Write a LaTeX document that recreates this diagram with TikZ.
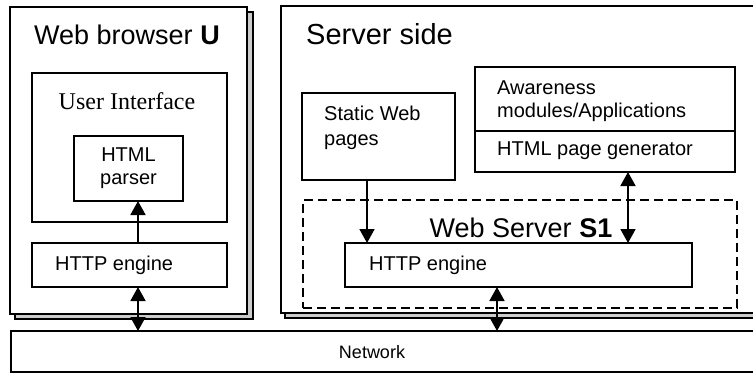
\documentclass[tikz,border=0pt]{standalone}
\usepackage{fontspec}
\setmainfont{Liberation Sans}
\newfontfamily\uiserif{Liberation Serif}
\usetikzlibrary{arrows.meta}
\begin{document}
\begin{tikzpicture}[x=1pt,y=-1pt,
  box/.style={draw,line width=1.8pt,fill=white,anchor=north west,inner sep=0pt,outer sep=0pt},
  shadowbox/.style={draw,line width=1.2pt,fill=gray!40,anchor=north west,inner sep=0pt,outer sep=0pt},
  lbl/.style={inner sep=0pt,font=\fontsize{20}{23}\selectfont,align=left},
  ttl/.style={inner sep=0pt},
  arr/.style={line width=1.8pt,-{Triangle[width=15pt,length=14pt]}},
  darr/.style={line width=1.8pt,{Triangle[width=15pt,length=14pt]}-{Triangle[width=15pt,length=14pt]}},
  dashbox/.style={draw,line width=1.8pt,dash pattern=on 9pt off 5pt,anchor=north west,inner sep=0pt,outer sep=0pt}
]
\useasboundingbox (0,0) rectangle (753,373);
\clip (0,0) rectangle (753,373);
\fill[white] (0,0) rectangle (753,373);

% shadows
\node[shadowbox,minimum width=238pt,minimum height=307pt] (bshadow) at (15,12) {};
\node[shadowbox,minimum width=480pt,minimum height=307pt] (sshadow) at (285,11) {};

% browser side
\node[box,minimum width=237pt,minimum height=307pt] (browser) at (10,7) {};
\node[ttl,font=\fontsize{27}{30}\selectfont] (btitle) at (127,35) {Web browser \textbf{U}};
\node[box,minimum width=195pt,minimum height=149pt] (ui) at (32,73) {};
\node[ttl,font=\uiserif\fontsize{24}{27}\selectfont] (uititle) at (127,101) {User Interface};
\node[box,minimum width=109pt,minimum height=65pt,align=center,font=\fontsize{20}{23}\selectfont] (parser) at (74,136) {HTML\\parser};
\node[box,minimum width=195pt,minimum height=44pt] (bhttp) at (32,243) {};
\node[lbl,anchor=west] (bhttptext) at (55,265) {HTTP engine};

% server side
\node[box,minimum width=480pt,minimum height=307pt] (server) at (281,6) {};
\node[ttl,anchor=west,font=\fontsize{29}{32}\selectfont] (stitle) at (306,34) {Server side};
\node[box,minimum width=153pt,minimum height=87pt] (static) at (302,93) {};
\node[lbl,anchor=west,font=\fontsize{20}{25}\selectfont] (statictext) at (324,128) {Static Web\\pages};
\node[box,minimum width=260pt,minimum height=64pt] (aware) at (475,67) {};
\node[lbl,anchor=west] (awaretext) at (497,101) {Awareness\\modules/Applications};
\node[box,minimum width=260pt,minimum height=41pt] (gen) at (475,131) {};
\node[lbl,anchor=west] (gentext) at (497,151) {HTML page generator};
\node[dashbox,minimum width=434pt,minimum height=108pt] (ws) at (303,200) {};
\node[ttl,font=\fontsize{27}{30}\selectfont] (wstitle) at (521,228) {Web Server \textbf{S1}};
\node[box,minimum width=347pt,minimum height=44pt] (shttp) at (345,243) {};
\node[lbl,anchor=west] (shttptext) at (369,265) {HTTP engine};

% network
\node[box,minimum width=760pt,minimum height=41pt] (network) at (11,331) {};
\node[ttl,font=\fontsize{18}{21}\selectfont] (nettext) at (372,352) {Network};

% connectors
\coordinate (xa) at (138,0);
\coordinate (xb) at (367,0);
\coordinate (xc) at (628,0);
\coordinate (xd) at (497,0);
\draw[arr] (bhttp.north -| xa) -- (parser.south -| xa);
\draw[darr] (bhttp.south -| xa) -- (network.north -| xa);
\draw[arr] (static.south -| xb) -- (shttp.north -| xb);
\draw[darr] (gen.south -| xc) -- (shttp.north -| xc);
\draw[darr] (shttp.south -| xd) -- (network.north -| xd);
\end{tikzpicture}
\end{document}
